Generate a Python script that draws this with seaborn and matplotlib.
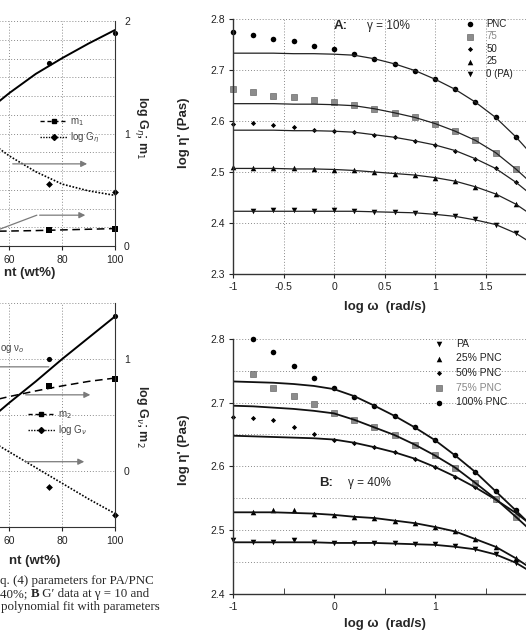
import numpy as np
import matplotlib
matplotlib.use('Agg')
import matplotlib.pyplot as plt
import seaborn as sns
from matplotlib.lines import Line2D
from matplotlib.ticker import FormatStrFormatter, MultipleLocator, FixedLocator

sns.set_style('ticks')
plt.rcParams['font.family'] = ['Liberation Sans', 'DejaVu Sans']
plt.rcParams['axes.unicode_minus'] = False
plt.rcParams['mathtext.fontset'] = 'dejavusans'

nan = np.nan

# ---- frequency sweeps (log omega) ----
log_w = [-1.0, -0.8, -0.6, -0.4, -0.2, 0.0, 0.2, 0.4, 0.6, 0.8, 1.0, 1.2, 1.4, 1.6, 1.8]
log_w_fit = [-1.0, -0.8, -0.6, -0.4, -0.2, 0.0, 0.2, 0.4, 0.6, 0.8, 1.0, 1.2, 1.4, 1.6, 1.8, 2.0]

# A: gamma = 10 %
a_pnc = [2.774, 2.769, 2.761, 2.756, 2.748, 2.741, 2.732, 2.722, 2.712, 2.699, 2.682, 2.662, 2.637, 2.607, 2.569]
a_75 = [2.662, 2.657, 2.650, 2.647, 2.642, 2.637, 2.631, 2.624, 2.616, 2.607, 2.595, 2.580, 2.563, 2.538, 2.506]
a_50 = [2.595, 2.597, 2.592, 2.588, 2.582, 2.581, 2.578, 2.573, 2.568, 2.561, 2.553, 2.542, 2.526, 2.507, 2.480]
a_25 = [2.510, 2.508, 2.508, 2.507, 2.505, 2.504, 2.503, 2.500, 2.497, 2.494, 2.489, 2.482, 2.471, 2.457, 2.437]
a_pa = [nan, 2.424, 2.425, 2.425, 2.424, 2.425, 2.424, 2.422, 2.422, 2.420, 2.417, 2.413, 2.407, 2.397, 2.380]

a_pnc_fit = [2.733, 2.733, 2.733, 2.732, 2.732, 2.731, 2.729, 2.722, 2.712, 2.699, 2.682, 2.662, 2.637, 2.607, 2.569, 2.525]
a_75_fit = [2.634, 2.634, 2.634, 2.633, 2.633, 2.632, 2.630, 2.624, 2.616, 2.607, 2.595, 2.580, 2.562, 2.538, 2.506, 2.470]
a_50_fit = [2.582, 2.582, 2.582, 2.581, 2.581, 2.580, 2.578, 2.573, 2.568, 2.561, 2.553, 2.542, 2.526, 2.507, 2.480, 2.448]
a_25_fit = [2.507, 2.507, 2.507, 2.506, 2.506, 2.505, 2.503, 2.500, 2.497, 2.494, 2.489, 2.482, 2.471, 2.457, 2.437, 2.410]
a_pa_fit = [2.423, 2.423, 2.423, 2.423, 2.423, 2.423, 2.423, 2.422, 2.421, 2.420, 2.417, 2.413, 2.406, 2.397, 2.380, 2.355]

# B: gamma = 40 %
b_pa = [2.484, 2.481, 2.481, 2.485, 2.481, 2.480, 2.480, 2.480, 2.480, 2.479, 2.478, 2.475, 2.471, 2.463, 2.449]
b_25 = [nan, 2.528, 2.532, 2.531, 2.526, 2.523, 2.521, 2.519, 2.515, 2.511, 2.505, 2.498, 2.486, 2.474, 2.456]
b_50 = [2.677, 2.675, 2.672, 2.662, 2.651, 2.642, 2.637, 2.630, 2.622, 2.612, 2.599, 2.584, 2.567, 2.548, nan]
b_75 = [nan, 2.744, 2.723, 2.710, 2.697, 2.683, 2.673, 2.661, 2.649, 2.634, 2.617, 2.598, 2.574, 2.549, 2.521]
b_100 = [nan, 2.800, 2.779, 2.758, 2.738, 2.722, 2.709, 2.695, 2.679, 2.661, 2.641, 2.617, 2.591, 2.561, 2.531]

b_pa_fit = [2.481, 2.481, 2.481, 2.481, 2.481, 2.480, 2.480, 2.480, 2.479, 2.478, 2.477, 2.474, 2.470, 2.462, 2.449, 2.430]
b_25_fit = [2.528, 2.528, 2.528, 2.527, 2.526, 2.524, 2.521, 2.519, 2.515, 2.511, 2.505, 2.498, 2.486, 2.474, 2.456, 2.435]
b_50_fit = [2.648, 2.647, 2.646, 2.645, 2.644, 2.642, 2.637, 2.630, 2.622, 2.612, 2.599, 2.584, 2.567, 2.548, 2.527, 2.503]
b_75_fit = [2.695, 2.694, 2.692, 2.690, 2.687, 2.683, 2.673, 2.661, 2.649, 2.634, 2.617, 2.598, 2.574, 2.549, 2.521, 2.492]
b_100_fit = [2.733, 2.732, 2.731, 2.729, 2.726, 2.721, 2.710, 2.695, 2.679, 2.661, 2.641, 2.617, 2.591, 2.561, 2.531, 2.500]

# ---- left panels: parameters vs PNC content (right-axis units) ----
content = [75, 100]
content_fit = [50, 60, 70, 80, 90, 100]
t_eta = [1.63, 1.89]
t_eta_fit = [1.17, 1.36, 1.53, 1.67, 1.80, 1.92]
t_logG = [0.55, 0.48]
t_logG_fit = [0.97, 0.80, 0.66, 0.55, 0.49, 0.45]
t_m1 = [0.14, 0.155]
t_m1_fit = [0.13, 0.133, 0.137, 0.143, 0.149, 0.155]

b_nu = [1.00, 1.38]
b_nu_fit = [0.41, 0.61, 0.80, 1.00, 1.19, 1.38]
b_m2 = [0.76, 0.82]
b_m2_fit = [0.61, 0.665, 0.715, 0.76, 0.80, 0.83]
b_logG = [-0.14, -0.39]
b_logG_fit = [0.31, 0.17, 0.03, -0.11, -0.25, -0.38]

W, H = 526, 631
fig = plt.figure(figsize=(W / 100, H / 100), dpi=100)


def box(x0, y0, x1, y1):
    return [x0 / W, 1 - y1 / H, (x1 - x0) / W, (y1 - y0) / H]


GRID = dict(color='#8a8a8a', linestyle=(0, (1, 2)), linewidth=0.7)
GRAY = '#7a7a7a'

# ================= panel A =================
axA = fig.add_axes(box(233, 19, 536, 274))
for fit in [a_pnc_fit, a_75_fit, a_50_fit, a_25_fit, a_pa_fit]:
    sns.lineplot(x=log_w_fit, y=fit, ax=axA, color='#222', linewidth=0.9, sort=False)
sns.scatterplot(x=log_w, y=a_pnc, ax=axA, marker='o', s=16, color='k', linewidth=0, label='PNC')
sns.scatterplot(x=log_w, y=a_75, ax=axA, marker='s', s=20, color='#8c8c8c', edgecolor='#555', linewidth=0.4, label='75')
sns.scatterplot(x=log_w, y=a_50, ax=axA, marker='D', s=7, color='k', linewidth=0, label='50')
sns.scatterplot(x=log_w, y=a_25, ax=axA, marker='^', s=16, color='k', linewidth=0, label='25')
sns.scatterplot(x=log_w, y=a_pa, ax=axA, marker='v', s=16, color='k', linewidth=0, label='0 (PA)')
axA.set_xlim(-1, 2)
axA.set_ylim(2.3, 2.8)
axA.set_xticks([-1, -0.5, 0, 0.5, 1, 1.5])
axA.xaxis.set_minor_locator(FixedLocator([2]))
axA.set_yticks([2.3, 2.4, 2.5, 2.6, 2.7, 2.8])
axA.xaxis.set_major_formatter(FormatStrFormatter('%g'))
axA.yaxis.set_major_formatter(FormatStrFormatter('%.1f'))
axA.grid(True, **GRID)
axA.legend(loc='upper left', bbox_to_anchor=(0.766, 1.0), frameon=False, fontsize=7,
           handlelength=1.0, handletextpad=1.2, labelspacing=0.25, borderpad=0, borderaxespad=0,
           labelcolor=['#222', '#888', '#222', '#222', '#222'])
axA.text(0.0, 2.787, 'A:', fontsize=9.5, fontweight='bold', va='center')
axA.text(0.33, 2.787, 'γ = 10%', fontsize=8.5, va='center')
axA.set_xlabel('log ω  (rad/s)', fontsize=9.5, fontweight='bold', labelpad=6)
axA.set_ylabel("log η' (Pas)", fontsize=9.5, fontweight='bold')
axA.yaxis.set_label_coords(-0.142, 0.555)

# ================= panel B =================
axB = fig.add_axes(box(233, 338.7, 536, 594))
for fit in [b_pa_fit, b_25_fit, b_50_fit, b_75_fit, b_100_fit]:
    sns.lineplot(x=log_w_fit, y=fit, ax=axB, color='#111', linewidth=1.3, sort=False)
sns.scatterplot(x=log_w, y=b_pa, ax=axB, marker='v', s=16, color='k', linewidth=0, label='PA')
sns.scatterplot(x=log_w, y=b_25, ax=axB, marker='^', s=16, color='k', linewidth=0, label='25% PNC')
sns.scatterplot(x=log_w, y=b_50, ax=axB, marker='D', s=7, color='k', linewidth=0, label='50% PNC')
sns.scatterplot(x=log_w, y=b_75, ax=axB, marker='s', s=20, color='#8c8c8c', edgecolor='#555', linewidth=0.4, label='75% PNC')
sns.scatterplot(x=log_w, y=b_100, ax=axB, marker='o', s=16, color='k', linewidth=0, label='100% PNC')
axB.set_xlim(-1, 2)
axB.set_ylim(2.4, 2.8)
axB.set_xticks([-1, 0, 1])
axB.xaxis.set_minor_locator(FixedLocator([-0.5, 0.5, 1.5]))
axB.set_yticks([2.4, 2.5, 2.6, 2.7, 2.8])
axB.yaxis.set_minor_locator(MultipleLocator(0.05))
axB.xaxis.set_major_formatter(FormatStrFormatter('%g'))
axB.yaxis.set_major_formatter(FormatStrFormatter('%.1f'))
axB.grid(True, axis='y', which='both', **GRID)
axB.tick_params(axis='x', which='minor', direction='in', length=4)
axB.tick_params(axis='y', which='minor', length=0)
axB.legend(loc='upper left', bbox_to_anchor=(0.663, 1.0), frameon=False, fontsize=7.5,
           handlelength=1.0, handletextpad=1.1, labelspacing=0.45, borderpad=0, borderaxespad=0,
           labelcolor=['#222', '#222', '#222', '#888', '#222'])
axB.text(-0.15, 2.574, 'B:', fontsize=9.5, fontweight='bold', va='center')
axB.text(0.14, 2.574, 'γ = 40%', fontsize=8.5, va='center')
axB.set_xlabel('log ω  (rad/s)', fontsize=9.5, fontweight='bold', labelpad=4)
axB.set_ylabel("log η' (Pas)", fontsize=9.5, fontweight='bold')
axB.yaxis.set_label_coords(-0.142, 0.565)

for ax in (axA, axB):
    sns.despine(ax=ax, top=True, right=True)
    ax.tick_params(axis='both', which='major', labelsize=7.5, length=3, width=0.8, pad=3, colors='#222')
    for s in ('left', 'bottom'):
        ax.spines[s].set_linewidth(1.0)
        ax.spines[s].set_color('#333')
    for coll in ax.collections:
        coll.set_clip_on(False)

# ================= left panels =================
axL1 = fig.add_axes(box(-149, 21, 115, 246))
axL2 = fig.add_axes(box(-149, 303, 115, 527))

sns.lineplot(x=content_fit, y=t_eta_fit, ax=axL1, color='k', linewidth=1.4)
sns.lineplot(x=content_fit, y=t_logG_fit, ax=axL1, color='k', linewidth=1.2, linestyle=(0, (1, 1)))
sns.lineplot(x=content_fit, y=t_m1_fit, ax=axL1, color='k', linewidth=1.1, linestyle=(0, (5, 3)))
sns.scatterplot(x=content, y=t_eta, ax=axL1, marker='o', s=14, color='k', linewidth=0)
sns.scatterplot(x=content, y=t_logG, ax=axL1, marker='D', s=12, color='k', linewidth=0)
sns.scatterplot(x=content, y=t_m1, ax=axL1, marker='s', s=16, color='k', linewidth=0)
axL1.set_ylim(0, 2)
axL1.set_yticks([0, 1, 2])
axL1.yaxis.set_minor_locator(MultipleLocator(1 / 6))
axL1.grid(True, axis='y', which='both', **GRID)

sns.lineplot(x=content_fit, y=b_nu_fit, ax=axL2, color='k', linewidth=1.4)
sns.lineplot(x=content_fit, y=b_m2_fit, ax=axL2, color='k', linewidth=1.1, linestyle=(0, (5, 3)))
sns.lineplot(x=content_fit, y=b_logG_fit, ax=axL2, color='k', linewidth=1.2, linestyle=(0, (1, 1)))
sns.scatterplot(x=content, y=b_nu, ax=axL2, marker='o', s=14, color='k', linewidth=0)
sns.scatterplot(x=content, y=b_m2, ax=axL2, marker='s', s=16, color='k', linewidth=0)
sns.scatterplot(x=content, y=b_logG, ax=axL2, marker='D', s=12, color='k', linewidth=0)
axL2.set_ylim(-0.5, 1.5)
axL2.set_yticks([0, 1])
axL2.yaxis.set_minor_locator(MultipleLocator(0.5))
axL2.grid(True, axis='y', which='both', **GRID)

for ax in (axL1, axL2):
    ax.set_xlim(0, 100)
    ax.set_xticks([60, 80, 100])
    ax.xaxis.set_minor_locator(FixedLocator([20, 40]))
    ax.grid(True, axis='x', which='both', **GRID)
    ax.yaxis.tick_right()
    ax.yaxis.set_label_position('right')
    sns.despine(ax=ax, left=True, top=True, right=False)
    ax.spines['right'].set_color('#333')
    ax.spines['bottom'].set_color('#333')
    ax.tick_params(axis='both', which='major', labelsize=7.5, length=3, width=0.8, colors='#222')
    ax.tick_params(axis='both', which='minor', length=0)
    for coll in ax.collections:
        coll.set_clip_on(False)

arrow = dict(arrowstyle='-|>', color=GRAY, lw=0.9, mutation_scale=9)
axL1.annotate('', xy=(90.5, 0.73), xytext=(60.2, 0.73), arrowprops=arrow)
axL1.plot([56.4, 70.4], [0.15, 0.274], color=GRAY, lw=0.9)
axL1.annotate('', xy=(89.8, 0.274), xytext=(70.4, 0.274), arrowprops=arrow)
axL2.annotate('', xy=(91.7, 0.68), xytext=(65.1, 0.68), arrowprops=arrow)
axL2.annotate('', xy=(89.4, 0.083), xytext=(65.1, 0.083), arrowprops=arrow)
axL2.annotate('', xy=(40, 0.93), xytext=(76, 0.93), arrowprops=arrow)
axL2.text(56.6, 1.09, 'og ν$_o$', fontsize=7, color='#444', ha='left', va='center')

leg1 = [Line2D([], [], color='k', ls=(0, (3, 2)), lw=1, marker='s', ms=3.5),
        Line2D([], [], color='k', ls=(0, (1, 1)), lw=1, marker='D', ms=3)]
axL1.legend(leg1, ['m$_1$', 'log G$_η$'], loc='center left', bbox_to_anchor=(0.716, 0.513),
            frameon=False, fontsize=7, handlelength=2.8, handletextpad=0.3, labelspacing=0.25,
            borderpad=0, borderaxespad=0, labelcolor='#444')
leg2 = [Line2D([], [], color='k', ls=(0, (3, 2)), lw=1, marker='s', ms=3.5),
        Line2D([], [], color='k', ls=(0, (1, 1)), lw=1, marker='D', ms=3)]
axL2.legend(leg2, ['m$_2$', 'log G$_ν$'], loc='center left', bbox_to_anchor=(0.670, 0.464),
            frameon=False, fontsize=7, handlelength=2.8, handletextpad=0.3, labelspacing=0.25,
            borderpad=0, borderaxespad=0, labelcolor='#444')

axL1.set_ylabel('log G$_η$; m$_1$', fontsize=9, fontweight='bold', rotation=-90)
axL1.yaxis.set_label_coords(1.133, 0.524)
axL2.set_ylabel('log G$_ν$; m$_2$', fontsize=9, fontweight='bold', rotation=-90)
axL2.yaxis.set_label_coords(1.133, 0.496)
axL1.set_xlabel('')
axL2.set_xlabel('')
fig.text(55 / W, 1 - 273 / H, 'nt (wt%)', fontsize=9.5, fontweight='bold', ha='right', va='center')
fig.text(60 / W, 1 - 561 / H, 'nt (wt%)', fontsize=9.5, fontweight='bold', ha='right', va='center')

# ================= caption fragment =================
serif = ['Liberation Serif', 'DejaVu Serif']
fig.text(0, 1 - 581 / H, 'q. (4) parameters for PA/PNC', family=serif, fontsize=9.3, va='center')
t1 = fig.text(0, 1 - 594 / H, '40%; ', family=serif, fontsize=9.3, va='center')
t2 = axA.annotate('B', xy=(1, 0), xycoords=t1, va='bottom', family=serif, fontsize=9.3, fontweight='bold',
                  annotation_clip=False)
axA.annotate(' G′ data at γ = 10 and', xy=(1, 0), xycoords=t2, va='bottom', family=serif, fontsize=9.3,
             annotation_clip=False)
fig.text(1 / W, 1 - 607 / H, 'polynomial fit with parameters', family=serif, fontsize=9.3, va='center')

fig.savefig('out.png', dpi=100, facecolor='white')
